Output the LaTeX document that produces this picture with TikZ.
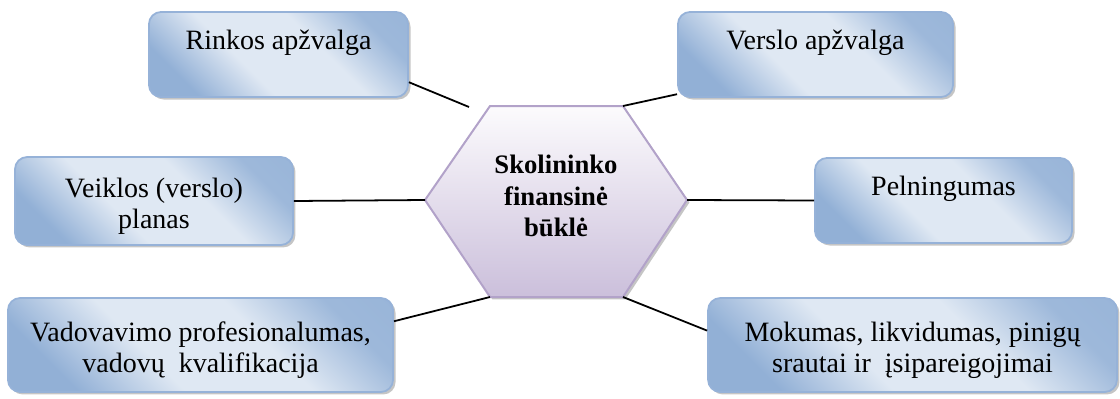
\documentclass[tikz,border=0pt]{standalone}
\usepackage{fontspec}
\setmainfont{Liberation Serif}
\usetikzlibrary{shadows, positioning}

\definecolor{boxdark}{RGB}{146, 176, 214}
\definecolor{boxlight}{RGB}{223, 232, 243}
\definecolor{boxline}{RGB}{150, 178, 216}
\definecolor{hextop}{RGB}{252, 251, 253}
\definecolor{hexbot}{RGB}{203, 191, 219}
\definecolor{hexline}{RGB}{178, 162, 201}

\pgfdeclarehorizontalshading{boxshade}{100bp}{color(0bp)=(boxdark);
  color(25bp)=(boxdark); color(41bp)=(boxlight); color(60bp)=(boxlight);
  color(75bp)=(boxdark!85!boxlight); color(100bp)=(boxdark)}

% invisible strut that lowers two-line texts a little
\newcommand{\lowstrut}{\rule{0pt}{13.5pt}}

\tikzset{
  infobox/.style={draw=boxline, thick, rounded corners=5.5pt,
    shading=boxshade, shading angle=45, align=center, inner sep=0pt,
    font=\fontsize{12.6}{13.8}\selectfont,
    drop shadow={shadow xshift=1.1pt, shadow yshift=-1.1pt,
      fill=black!45, opacity=0.5}},
  oneline/.style={text depth=13pt},
  link/.style={line width=0.8pt, black}
}

\begin{document}
\begin{tikzpicture}[x=0.45pt, y=-0.45pt]
  \useasboundingbox (0,0) rectangle (1120,398);

  % hexagon in the middle
  \coordinate (hw) at (425,200);
  \coordinate (hnw) at (490,106);
  \coordinate (hne) at (623,106);
  \coordinate (he) at (687,200);
  \coordinate (hse) at (623,297);
  \coordinate (hsw) at (490,297);
  \coordinate (rinkos-end) at (469,107);

  \shade[top color=hextop, bottom color=hexbot, draw=hexline,
    line width=0.9pt,
    drop shadow={shadow xshift=1.1pt, shadow yshift=-1.1pt,
      fill=black!45, opacity=0.5}]
    (hw) -- (hnw) -- (hne) -- (he) -- (hse) -- (hsw) -- cycle;

  \node[align=center, font=\fontsize{12}{14}\selectfont\bfseries]
    (bukle) at (556,196) {Skolininko\\finansinė\\būklė};

  % boxes
  \node[infobox, oneline, minimum width=116.6pt, minimum height=38.3pt]
    (rinkos) at (278.5,54.5) {Rinkos apžvalga};
  \node[infobox, oneline, minimum width=123.8pt, minimum height=38.3pt]
    (verslo) at (815.5,54.5) {Verslo apžvalga};
  \node[infobox, minimum width=125.1pt, minimum height=39.6pt]
    (veiklos) at (154,201) {\lowstrut Veiklos (verslo)\\planas};
  \node[infobox, oneline, minimum width=115.7pt, minimum height=38.3pt]
    (pelning) at (943.5,200.5) {Pelningumas};
  \node[infobox, minimum width=173.3pt, minimum height=42.3pt]
    (vadov) at (200.5,345) {\lowstrut Vadovavimo profesionalumas,\\vadovų\ \ kvalifikacija};
  \node[infobox, minimum width=184pt, minimum height=42.3pt]
    (mokum) at (912.5,345) {\lowstrut Mokumas, likvidumas, pinigų\\srautai ir\ \ įsipareigojimai};

  % connectors
  \draw[link] (rinkos.-12) -- (rinkos-end);
  \draw[link] (hne) -- (verslo.196);
  \draw[link] (veiklos.east) -- (hw);
  \draw[link] (he) -- (pelning.west);
  \draw[link] (vadov.7) -- (hsw);
  \draw[link] (hse) -- (mokum.176);
\end{tikzpicture}
\end{document}
